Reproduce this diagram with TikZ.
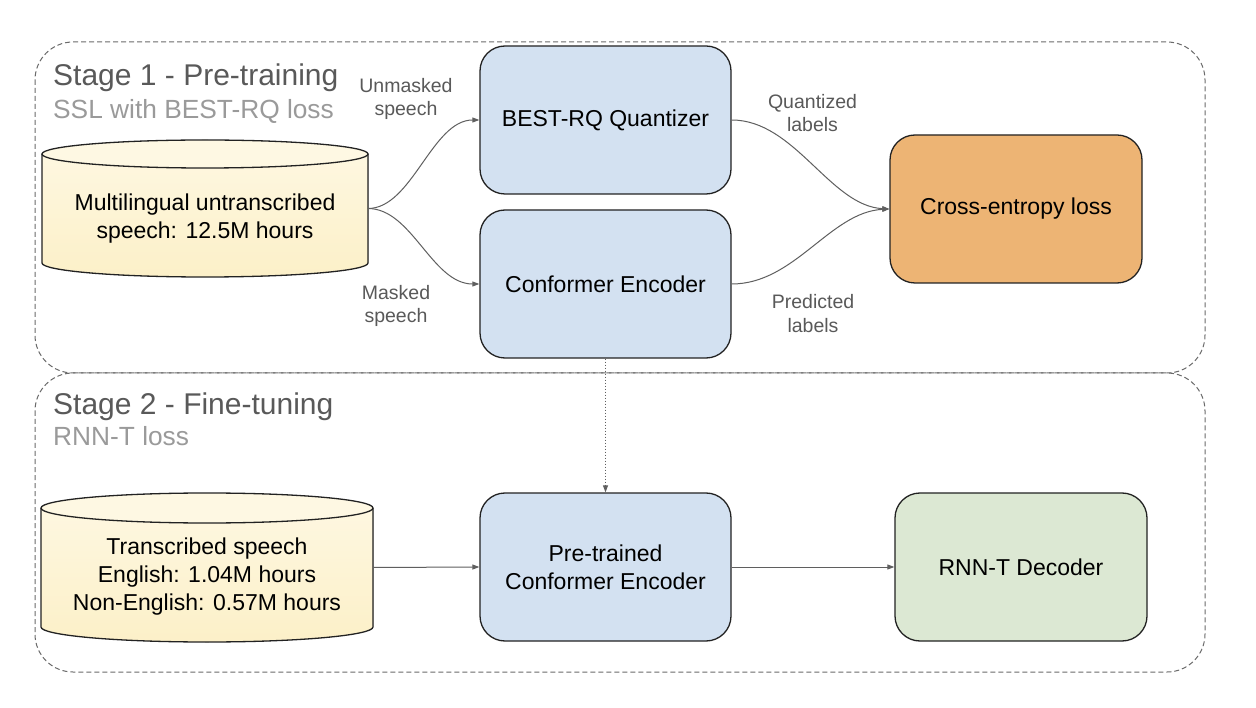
\documentclass[tikz,border=0pt]{standalone}
\usepackage{fontspec}
\setmainfont{Liberation Sans}
\usetikzlibrary{arrows.meta}
\definecolor{boxblue}{HTML}{D3E1F1}
\definecolor{boxgreen}{HTML}{DCE8D3}
\definecolor{boxorange}{HTML}{EDB474}
\definecolor{cylTop}{HTML}{FEF8E3}
\definecolor{cylBot}{HTML}{FCF0C8}
\definecolor{edgecol}{HTML}{222222}
\definecolor{conncol}{HTML}{5F5F5F}
\definecolor{framecol}{HTML}{6A6A6A}
\definecolor{titlegray}{HTML}{595959}
\definecolor{subgray}{HTML}{9A9A9A}
\newcommand\mybodyfont{\fontsize{23}{28}\selectfont}
\newcommand\mylabelfont{\fontsize{19.5}{23.5}\selectfont}
\newcommand\mytitlefont{\fontsize{30}{34}\selectfont}
\newcommand\mysubfont{\fontsize{26.3}{30}\selectfont}
\begin{document}
\begin{tikzpicture}[x=1pt,y=-1pt,
  blockbox/.style={draw=edgecol, line width=1.3pt, rounded corners=25pt,
    minimum width=251pt, minimum height=148pt, inner sep=0pt, align=center,
    font=\mybodyfont, text=black},
  datatext/.style={inner sep=0pt, align=center, font=\mybodyfont, text=black},
  cylline/.style={draw=edgecol, line width=1.3pt},
  conn/.style={draw=conncol, line width=1pt, -{Triangle[length=7pt,width=5pt]}, conncol},
  edgelabel/.style={inner sep=0pt, align=center, font=\mylabelfont, text=titlegray},
  stageframe/.style={draw=framecol, line width=1pt, dash pattern=on 5pt off 3pt, rounded corners=38pt},
  titletext/.style={inner sep=0pt, anchor=base west, font=\mytitlefont, text=titlegray},
  subtext/.style={inner sep=0pt, anchor=base west, font=\mysubfont, text=subgray}]
\useasboundingbox (0,0) rectangle (1256,708);
\fill[white] (0,0) rectangle (1256,708);

% stage frames
\draw[stageframe] (35,42) rectangle (1205,373);
\draw[stageframe] (35,373) rectangle (1205,672);

% titles
\node[titletext] (t1) at (53,86) {Stage 1 - Pre-training};
\node[subtext] (s1) at (53,119) {SSL with BEST-RQ loss};
\node[titletext] (t2) at (53,415) {Stage 2 - Fine-tuning};
\node[subtext] (s2) at (53,446) {RNN-T loss};

% cylinder 1
\fill[top color=cylTop, bottom color=cylBot] (42,154) -- (42,263)
  arc[start angle=180,end angle=360,x radius=163pt,y radius=14pt] -- (368,154)
  arc[start angle=0,end angle=180,x radius=163pt,y radius=14pt] -- cycle;
\draw[cylline] (42,154) -- (42,263)
  arc[start angle=180,end angle=360,x radius=163pt,y radius=14pt] -- (368,154);
\draw[cylline, fill=cylTop] (205,154) ellipse[x radius=163pt, y radius=14pt];
\node[datatext] (db1) at (205,218.5) {Multilingual untranscribed\\speech: 12.5M hours};
\coordinate (db1out) at (368,208.5);

% cylinder 2
\fill[top color=cylTop, bottom color=cylBot] (41,508) -- (41,627)
  arc[start angle=180,end angle=360,x radius=166pt,y radius=15pt] -- (373,508)
  arc[start angle=0,end angle=180,x radius=166pt,y radius=15pt] -- cycle;
\draw[cylline] (41,508) -- (41,627)
  arc[start angle=180,end angle=360,x radius=166pt,y radius=15pt] -- (373,508);
\draw[cylline, fill=cylTop] (207,508) ellipse[x radius=166pt, y radius=15pt];
\node[datatext] (db2) at (207,577) {Transcribed speech\\English: 1.04M hours\\Non-English: 0.57M hours};
\coordinate (db2out) at (373,567.5);

% blocks
\node[blockbox, fill=boxblue] (qz) at (605.5,120) {BEST-RQ Quantizer};
\node[blockbox, fill=boxblue] (enc) at (605.5,284) {Conformer Encoder};
\node[blockbox, fill=boxorange, minimum width=252pt] (ce) at (1016,209) {Cross-entropy loss};
\node[blockbox, fill=boxblue] (pt) at (605.5,567) {Pre-trained\\Conformer Encoder};
\node[blockbox, fill=boxgreen, minimum width=252pt] (dec) at (1021,567) {RNN-T Decoder};

% connectors
\draw[conn] (db1out) .. controls (412,208.5) and (432,120) .. (qz.west);
\draw[conn] (db1out) .. controls (412,208.5) and (432,284) .. (enc.west);
\draw[conn] (qz.east) .. controls (795,120) and (830,206) .. (ce.west);
\draw[conn] (enc.east) .. controls (795,284) and (830,212) .. (ce.west);
\draw[conn, dotted] (enc.south) -- (pt.north);
\draw[conn] (db2out) -- (pt.west);
\draw[conn] (pt.east) -- (dec.west);

% edge labels
\node[edgelabel] (lu) at (406,99) {Unmasked\\speech};
\node[edgelabel] (lm) at (396,306) {Masked\\speech};
\node[edgelabel] (lq) at (812.5,113) {Quantized\\labels};
\node[edgelabel] (lp) at (813,313.5) {Predicted\\labels};
\end{tikzpicture}
\end{document}
